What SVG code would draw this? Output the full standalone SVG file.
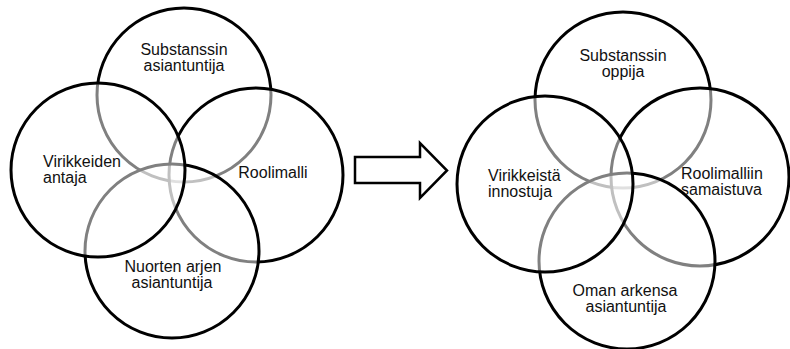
<svg xmlns="http://www.w3.org/2000/svg" width="790" height="349" viewBox="0 0 790 349">
<style>
.c{fill:#fff;fill-opacity:0.5;stroke:#000;stroke-width:3}
.t{font-family:"Liberation Sans",Arial,sans-serif;font-size:16px;fill:#111}
.m{text-anchor:middle}
.a{fill:#fff;stroke:#000;stroke-width:2.5;stroke-linejoin:miter}
</style>
<rect width="790" height="349" fill="#fff"/>
<g id="left-diagram">
<g id="l-substanssin">
<circle class="c" cx="184" cy="95" r="87"/>
<text class="t m" x="184" y="55">Substanssin</text>
<text class="t m" x="184" y="71">asiantuntija</text>
</g>
<g id="l-roolimalli">
<circle class="c" cx="256" cy="175" r="87"/>
<text class="t m" x="273" y="178">Roolimalli</text>
</g>
<g id="l-nuorten">
<circle class="c" cx="172" cy="251" r="87"/>
<text class="t m" x="173" y="272">Nuorten arjen</text>
<text class="t m" x="172" y="288">asiantuntija</text>
</g>
<g id="l-virikkeiden">
<circle class="c" cx="98" cy="170" r="87"/>
<text class="t" x="43" y="167">Virikkeiden</text>
<text class="t" x="43" y="183">antaja</text>
</g>
</g>
<g id="connectors">
<polygon class="a" points="355,157 420,157 420,143 447,170.5 420,198 420,183 355,183"/>
</g>
<g id="right-diagram">
<g id="r-substanssin">
<circle class="c" cx="623" cy="100" r="88"/>
<text class="t m" x="623" y="61">Substanssin</text>
<text class="t m" x="623" y="77">oppija</text>
</g>
<g id="r-roolimalliin">
<circle class="c" cx="700" cy="177" r="89"/>
<text class="t" x="681" y="179">Roolimalliin</text>
<text class="t" x="681" y="195">samaistuva</text>
</g>
<g id="r-oman">
<circle class="c" cx="627" cy="261" r="88"/>
<text class="t m" x="625" y="296">Oman arkensa</text>
<text class="t m" x="626" y="312">asiantuntija</text>
</g>
<g id="r-virikkeista">
<circle class="c" cx="545" cy="184" r="88"/>
<text class="t" x="488" y="181">Virikkeistä</text>
<text class="t" x="488" y="197">innostuja</text>
</g>
</g>
</svg>
